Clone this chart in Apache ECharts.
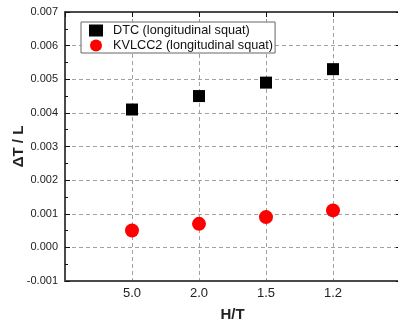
<!DOCTYPE html>
<html>
<head>
<meta charset="utf-8">
<script src="https://cdn.jsdelivr.net/npm/echarts@6/dist/echarts.min.js"></script>
<style>
  html, body { margin: 0; padding: 0; background: #fff; }
  #chart { width: 398px; height: 324px; }
</style>
</head>
<body>
<div id="chart"></div>
<script>
// Depth ratio H/T categories (blank slots pad both ends of the axis)
const categories = ['5.0', '2.0', '1.5', '1.2'];
const axisCategories = [''].concat(categories, [' ']);

// Longitudinal squat ΔT / L for each hull form
const dtcValues = [0.0041, 0.0045, 0.0049, 0.0053];
const kvlccValues = [0.0005, 0.0007, 0.0009, 0.0011];

const seriesNames = ['DTC (longitudinal squat)', 'KVLCC2 (longitudinal squat)'];

const FONT = '"Liberation Sans", Arial, sans-serif';
const frameColor = '#4a4a4a';
const gridLine = { show: true, lineStyle: { color: '#a0a0a0', type: [4, 3], width: 1 } };

const chart = echarts.init(document.getElementById('chart'), null, { renderer: 'canvas' });

chart.setOption({
  animation: false,
  backgroundColor: '#ffffff',
  grid: { left: 65, top: 12, bottom: 43, width: 335, containLabel: false, outerBoundsMode: 'none' },
  legend: {
    orient: 'vertical',
    left: 81,
    top: 22,
    padding: [2, 2, 1, 8],
    itemGap: 2,
    itemWidth: 14,
    itemHeight: 12,
    borderColor: '#666',
    borderWidth: 1,
    backgroundColor: '#fff',
    textStyle: { fontFamily: FONT, fontSize: 12.7, color: '#111', padding: [0, 0, 0, 5] },
    data: [
      { name: seriesNames[0], icon: 'rect' },
      { name: seriesNames[1], icon: 'circle' }
    ]
  },
  xAxis: [
    {
      type: 'category',
      data: axisCategories,
      boundaryGap: false,
      position: 'bottom',
      name: 'H/T',
      nameLocation: 'middle',
      nameGap: 26,
      nameMoveOverlap: false,
      nameTextStyle: { fontFamily: FONT, fontSize: 15, fontWeight: 'bold', color: '#222' },
      axisLine: { show: true, onZero: false, lineStyle: { color: frameColor, width: 2 } },
      axisTick: { show: false },
      axisLabel: { fontFamily: FONT, fontSize: 13, color: '#222', margin: 6, interval: 0 },
      splitLine: gridLine
    },
    {
      type: 'category',
      data: axisCategories,
      boundaryGap: false,
      position: 'top',
      axisLine: { show: true, onZero: false, lineStyle: { color: frameColor, width: 2 } },
      axisTick: { show: true, inside: true, length: 5, interval: 0, lineStyle: { color: '#111' } },
      axisLabel: { show: false },
      splitLine: { show: false }
    }
  ],
  yAxis: [
    {
      type: 'value',
      min: -0.001,
      max: 0.007,
      interval: 0.001,
      position: 'left',
      name: 'ΔT / L',
      nameLocation: 'middle',
      nameGap: 39,
      nameMoveOverlap: false,
      nameTextStyle: { fontFamily: FONT, fontSize: 15, fontWeight: 'bold', color: '#222' },
      axisLine: { show: true, onZero: false, lineStyle: { color: frameColor, width: 2 } },
      axisTick: { show: true, inside: true, length: 5, lineStyle: { color: '#111' } },
      minorTick: { show: true, splitNumber: 2, length: 3, lineStyle: { color: '#111' } },
      axisLabel: {
        fontFamily: FONT, fontSize: 11, color: '#222', margin: 7,
        formatter: v => (Math.abs(v) < 1e-9 ? '0.000' : v.toFixed(3))
      },
      splitLine: gridLine
    },
    {
      type: 'value',
      min: -0.001,
      max: 0.007,
      interval: 0.001,
      position: 'right',
      axisLine: { show: false },
      axisTick: { show: true, inside: true, length: 4, lineStyle: { color: '#111' } },
      axisLabel: { show: false },
      splitLine: { show: false }
    }
  ],
  series: [
    {
      name: seriesNames[0],
      type: 'scatter',
      symbol: 'rect',
      symbolSize: 12,
      itemStyle: { color: '#000000', opacity: 1 },
      data: categories.map((c, i) => [c, dtcValues[i]]),
      z: 5
    },
    {
      name: seriesNames[1],
      type: 'scatter',
      symbol: 'circle',
      symbolSize: 14,
      itemStyle: { color: '#ff0000', opacity: 1 },
      data: categories.map((c, i) => [c, kvlccValues[i]]),
      z: 5
    }
  ]
});
</script>
</body>
</html>
